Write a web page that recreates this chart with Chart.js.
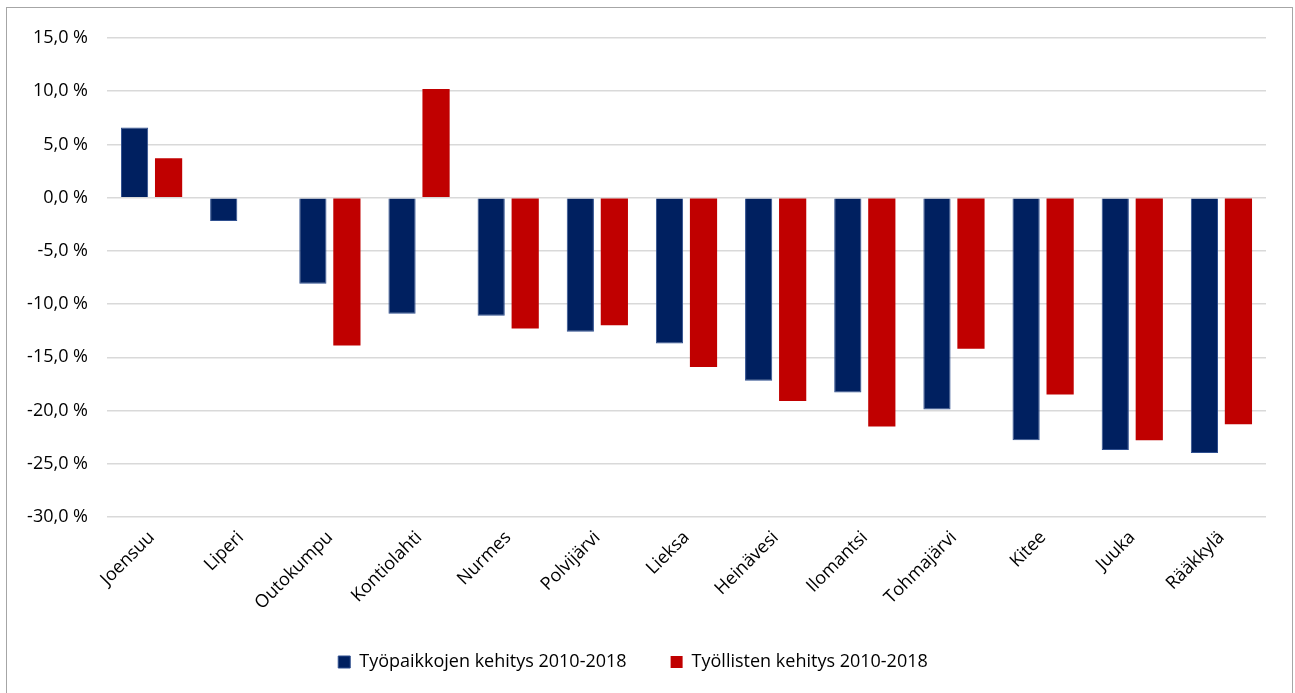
<!DOCTYPE html>
<html>
<head>
<meta charset="utf-8">
<script src="https://cdn.jsdelivr.net/npm/chart.js@4/dist/chart.umd.min.js"></script>
<style>
  html, body { margin: 0; padding: 0; background: #fff; }
  #wrap { position: relative; width: 1295px; height: 693px; overflow: hidden; }
  #frame { position: absolute; left: 6px; top: 7px; width: 1287px; height: 700px;
           border: 1px solid #a6a6a6; box-sizing: border-box; pointer-events: none; }
  canvas { position: absolute; left: 0; top: 0; }
</style>
</head>
<body>
<div id="wrap">
  <canvas id="chart" width="1295" height="693"></canvas>
  <div id="frame"></div>
</div>
<script>
// kunnat
var categories = ["Joensuu", "Liperi", "Outokumpu", "Kontiolahti", "Nurmes", "Polvijärvi", "Lieksa",
  "Heinävesi", "Ilomantsi", "Tohmajärvi", "Kitee", "Juuka", "Rääkkylä"];
var tyopaikat = [6.6, -2.2, -8.1, -10.9, -11.1, -12.6, -13.7, -17.2, -18.3, -19.9, -22.8, -23.7, -24.0];
var tyolliset = [3.7, 0.0, -13.9, 10.2, -12.3, -12.0, -15.9, -19.1, -21.5, -14.2, -18.5, -22.8, -21.3];
var yTicks = [15, 10, 5, 0, -5, -10, -15, -20, -25, -30];

var font = "'Open Sans', 'Noto Sans', sans-serif";

var ctx = document.getElementById("chart").getContext("2d");
var chart = new Chart(ctx, {
  type: 'bar',
  data: {
    labels: categories,
    datasets: [{
      label: 'Työpaikkojen kehitys 2010-2018',
      data: tyopaikat,
      backgroundColor: '#002060',
      borderColor: '#2f4f8f',
      borderWidth: 1,
      categoryPercentage: 0.763,
      barPercentage: 0.8
    }, {
      label: 'Työllisten kehitys 2010-2018',
      data: tyolliset,
      backgroundColor: '#c00000',
      borderColor: '#c00000',
      borderWidth: 0,
      categoryPercentage: 0.763,
      barPercentage: 0.8
    }]
  },
  options: {
    responsive: false,
    animation: false,
    layout: { padding: { left: 0, right: 29, top: 38, bottom: 12 } },
    plugins: {
      tooltip: { enabled: false },
      legend: {
        position: 'bottom',
        labels: {
          boxWidth: 12, boxHeight: 12, padding: 44,
          color: '#000', font: { family: font, size: 18 }
        }
      }
    },
    scales: {
      x: {
        grid: { display: false },
        border: { display: false },
        afterFit: function (s) { s.height -= 7; },
        ticks: {
          minRotation: 45, maxRotation: 45, autoSkip: false,
          color: '#000', font: { family: font, size: 18 }, padding: 2
        }
      },
      y: {
        min: -30, max: 15,
        afterFit: function (s) { s.width = 107; },
        afterBuildTicks: function (s) { s.ticks = yTicks.map(function (v) { return { value: v }; }); },
        grid: { color: '#d9d9d9', lineWidth: 1.5, drawTicks: false },
        border: { display: false },
        ticks: {
          padding: 19, color: '#000', font: { family: font, size: 18 },
          callback: function (v) { return v.toFixed(1).replace('.', ',') + ' %'; }
        }
      }
    }
  }
});
</script>
</body>
</html>
